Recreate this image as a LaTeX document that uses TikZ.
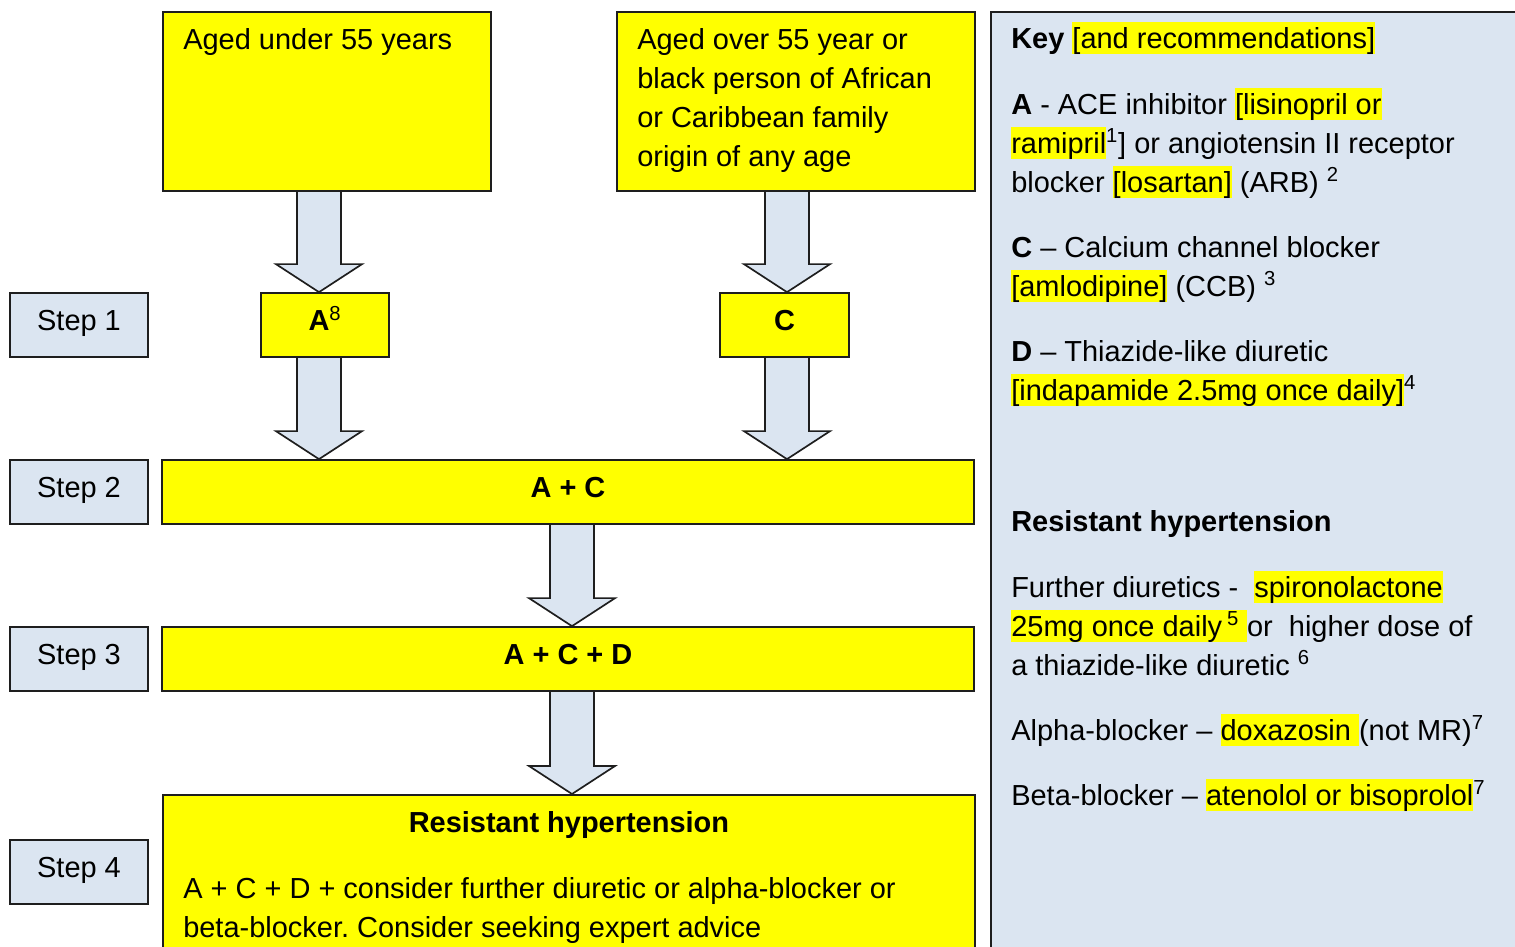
\documentclass[tikz,border=0pt]{standalone}
\usepackage{fontspec}
\setmainfont{Liberation Sans}
\usepackage{xcolor}
\usetikzlibrary{calc, backgrounds}
\definecolor{hlyellow}{RGB}{255, 255, 0}
\definecolor{paleblue}{RGB}{219, 229, 241}
\definecolor{edgegray}{RGB}{30, 30, 30}
\frenchspacing
\newcommand{\bodyfont}{\fontsize{20.6}{27.7}\selectfont}
\newcommand{\hl}[1]{{\setlength{\fboxsep}{0pt}\colorbox{hlyellow}{\rule[-0.21em]{0pt}{1.11em}#1}}}
% block arrow: centre x, upper node, lower node
\newcommand{\blockarrow}[3]{%
  \filldraw[blockarrow] ({#1-22},0 |- #2.south)
    -- ($({#1-22},0 |- #3.north)+(0,-28)$) -- ($({#1-43},0 |- #3.north)+(0,-28)$)
    -- (#1,0 |- #3.north)
    -- ($({#1+43},0 |- #3.north)+(0,-28)$) -- ($({#1+22},0 |- #3.north)+(0,-28)$)
    -- ({#1+22},0 |- #2.south);}

\begin{document}
\begin{tikzpicture}[
    x=0.025cm, y=-0.025cm,
    yellowbox/.style={draw=edgegray, line width=1.2pt, fill=hlyellow, inner sep=0pt},
    druglabel/.style={yellowbox, minimum height=1.6cm, font=\bodyfont\bfseries, text height=15.4pt, text depth=7pt},
    steplabel/.style={draw=edgegray, line width=1.2pt, fill=paleblue, minimum width=3.45cm, minimum height=1.6cm, font=\bodyfont, text height=15.4pt, text depth=7pt},
    boxtext/.style={anchor=north west, inner sep=0pt, align=left, font=\bodyfont},
    blockarrow/.style={draw=edgegray, line width=1.2pt, fill=paleblue, line join=miter}
]
    \useasboundingbox (0,0) rectangle (1515,947);

    % patient groups
    \node[yellowbox, anchor=north west, minimum width=8.2cm, minimum height=4.475cm] (young) at (162,11) {};
    \node[yellowbox, anchor=north west, minimum width=8.95cm, minimum height=4.475cm] (older) at (616,11) {};
    \node[boxtext] (youngtext) at ($(young.north west)+(21,10.7)$) {\strut Aged under 55 years};
    \node[boxtext] (oldertext) at ($(older.north west)+(21,10.7)$) {\strut Aged over 55 year or\\black person of African\\or Caribbean family\\origin of any age};

    % treatment steps
    \node[druglabel, minimum width=3.2cm] (drugA) at (325,325) {A\textsuperscript{\mdseries 8}};
    \node[druglabel, minimum width=3.225cm] (drugC) at (784.5,325) {C};
    \node[druglabel, minimum width=20.3cm] (ac) at (568,492) {A + C};
    \node[druglabel, minimum width=20.3cm] (acd) at (568,659) {A + C + D};
    \node[yellowbox, anchor=north west, minimum width=20.3cm, minimum height=4.25cm] (stepfour) at (162,794) {};
    \node[anchor=base, inner sep=0pt, font=\bodyfont\bfseries] (resistant) at ($(stepfour.north)+(0,38)$) {Resistant hypertension};
    \node[boxtext] (resistanttext) at ($(stepfour.north west)+(21,76.7)$) {\strut A + C + D + consider further diuretic or alpha-blocker or\\beta-blocker. Consider seeking expert advice};

    % step labels
    \node[steplabel] (step1) at (79,325) {Step 1};
    \node[steplabel] (step2) at (79,492) {Step 2};
    \node[steplabel] (step3) at (79,659) {Step 3};
    \node[steplabel] (step4) at (79,872) {Step 4};

    \begin{scope}[on background layer]
        \blockarrow{319}{young}{drugA}
        \blockarrow{787}{older}{drugC}
        \blockarrow{319}{drugA}{ac}
        \blockarrow{787}{drugC}{ac}
        \blockarrow{572}{ac}{acd}
        \blockarrow{572}{acd}{stepfour}
    \end{scope}

    % key panel
    \node[draw=edgegray, line width=1.2pt, fill=paleblue, anchor=north west, minimum width=13.5cm, minimum height=23.75cm] (key) at (990,11) {};
    \node[boxtext] (keyhead) at ($(key.north west)+(21,9.7)$) {\strut\textbf{Key} \hl{[and recommendations]}};
    \node[boxtext] (keyA) at ($(key.north west)+(21,75.7)$) {\strut\textbf{A} - ACE inhibitor \hl{[lisinopril or}\\\hl{ramipril}\textsuperscript{1}] or angiotensin II receptor\\blocker \hl{[losartan]} (ARB) \textsuperscript{2}};
    \node[boxtext] (keyC) at ($(key.north west)+(21,218.7)$) {\strut\textbf{C} – Calcium channel blocker\\\hl{[amlodipine]} (CCB) \textsuperscript{3}};
    \node[boxtext] (keyD) at ($(key.north west)+(21,322.7)$) {\strut\textbf{D} – Thiazide-like diuretic\\\hl{[indapamide 2.5mg once daily]}\textsuperscript{4}};
    \node[boxtext, font=\bodyfont\bfseries] (keyres) at ($(key.north west)+(21,492.7)$) {\strut Resistant hypertension};
    \node[boxtext] (keyfurther) at ($(key.north west)+(21,558.7)$) {\strut Further diuretics -\ \ \hl{spironolactone}\\\hl{25mg once daily\,\textsuperscript{5}\ }or\ \ higher dose of\\a thiazide-like diuretic \textsuperscript{6}};
    \node[boxtext] (keyalpha) at ($(key.north west)+(21,701.7)$) {\strut Alpha-blocker – \hl{doxazosin\ }(not MR)\textsuperscript{7}};
    \node[boxtext] (keybeta) at ($(key.north west)+(21,766.7)$) {\strut Beta-blocker – \hl{atenolol or bisoprolol}\textsuperscript{7}};
\end{tikzpicture}
\end{document}
